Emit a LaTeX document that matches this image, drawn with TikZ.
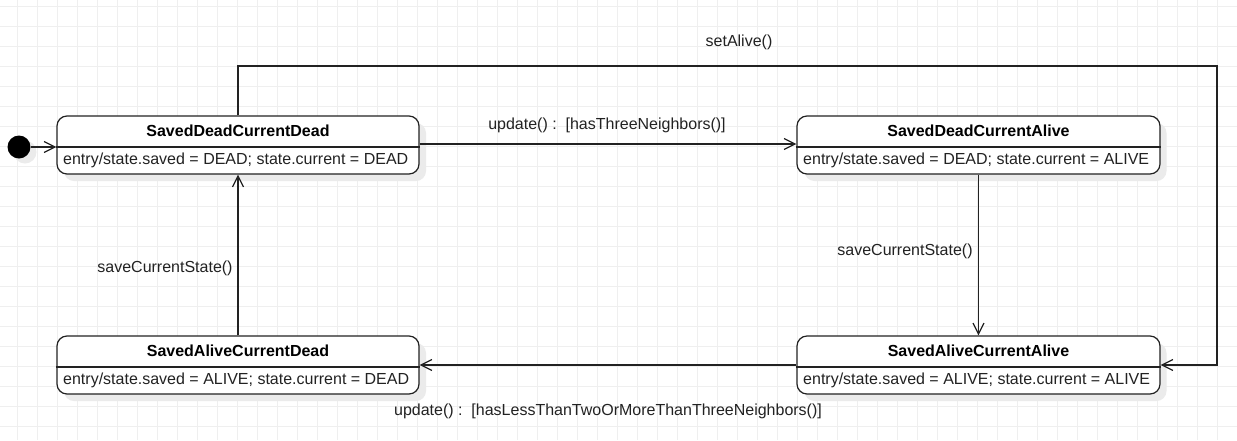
\documentclass[tikz,border=0pt]{standalone}
\usepackage{fontspec}
\setmainfont{Liberation Sans}
\usetikzlibrary{arrows.meta}
\definecolor{gridc}{HTML}{EFEFEF}
\definecolor{shadowc}{HTML}{EBEBEB}
\definecolor{linec}{HTML}{222222}
\definecolor{textc}{HTML}{222222}
\begin{document}
\begin{tikzpicture}[x=1pt,y=-1pt,
  every node/.style={font=\fontsize{16}{19}\selectfont, text=textc},
  statebox/.style={draw=linec, line width=1.2pt, rounded corners=10pt, fill=white,
    minimum width=362pt, minimum height=58pt, inner sep=0pt},
  shadowbox/.style={fill=shadowc, rounded corners=10pt, minimum width=362pt, minimum height=58pt, inner sep=0pt},
  headtext/.style={font=\fontsize{16}{19}\selectfont\bfseries, text=black, inner sep=0pt},
  bodytext/.style={anchor=west, inner sep=0pt},
  trans/.style={draw=linec, line width=1.2pt, -{Straight Barb[length=11pt,width=11pt,line width=1.2pt]}},
  lbl/.style={inner sep=0pt},
  initdot/.style={circle, fill=black, minimum size=23pt, inner sep=0pt}
]
\useasboundingbox (0,0) rectangle (1237,440);
\fill[white] (0,0) rectangle (1237,440);
% grid
\foreach \gx in {17,37,...,1237} \draw[gridc, line width=1pt] (\gx,0) -- (\gx,440);
\foreach \gy in {6,26,...,440} \draw[gridc, line width=1pt] (0,\gy) -- (1237,\gy);

% shadows
\node[shadowbox] at (245,152) {};
\node[shadowbox] at (985.5,152) {};
\node[shadowbox] at (245,372) {};
\node[shadowbox] at (985.5,372) {};
\fill[shadowc] (25,152) circle (11.5pt);

% states
\node[statebox] (sdcd) at (238,145) {};
\node[statebox, minimum width=363pt] (sdca) at (978.5,145) {};
\node[statebox] (sacd) at (238,365) {};
\node[statebox, minimum width=363pt] (saca) at (978.5,365) {};

\foreach \s in {sdcd,sdca,sacd,saca}
  \draw[linec, line width=1.2pt] ([yshift=-2pt]\s.west) -- ([yshift=-2pt]\s.east);

\node[headtext] (h1) at (238,131) {SavedDeadCurrentDead};
\node[bodytext] (b1) at (63,160) {entry/state.saved = DEAD; state.current = DEAD};
\node[headtext] (h2) at (978.5,131) {SavedDeadCurrentAlive};
\node[bodytext] (b2) at (803,160) {entry/state.saved = DEAD; state.current = ALIVE};
\node[headtext] (h3) at (238,351) {SavedAliveCurrentDead};
\node[bodytext] (b3) at (63,380) {entry/state.saved = ALIVE; state.current = DEAD};
\node[headtext] (h4) at (978.5,351) {SavedAliveCurrentAlive};
\node[bodytext] (b4) at (803,380) {entry/state.saved = ALIVE; state.current = ALIVE};

% initial
\node[initdot] (init) at (19,147) {};
\draw[trans] (init.east) -- (init.east -| sdcd.west);

% transitions
\draw[trans] ([yshift=1pt]sdcd.east) -- ([yshift=1pt]sdca.west);
\draw[trans] (sdca.south) -- (saca.north);
\draw[trans] (saca.west) -- (sacd.east);
\draw[trans] (sacd.north) -- (sdcd.south);
\coordinate (loopc) at (1217,66);
\draw[trans] (sdcd.north) |- (loopc) |- (saca.east);

% labels
\node[lbl] (l1) at (607,125) {update() :~~[hasThreeNeighbors()]};
\node[lbl] (l2) at (739,42) {setAlive()};
\node[lbl] (l3) at (905,251) {saveCurrentState()};
\node[lbl] (l4) at (165,268) {saveCurrentState()};
\node[lbl] (l5) at (608,411) {update() :~~[hasLessThanTwoOrMoreThanThreeNeighbors()]};
\end{tikzpicture}
\end{document}
